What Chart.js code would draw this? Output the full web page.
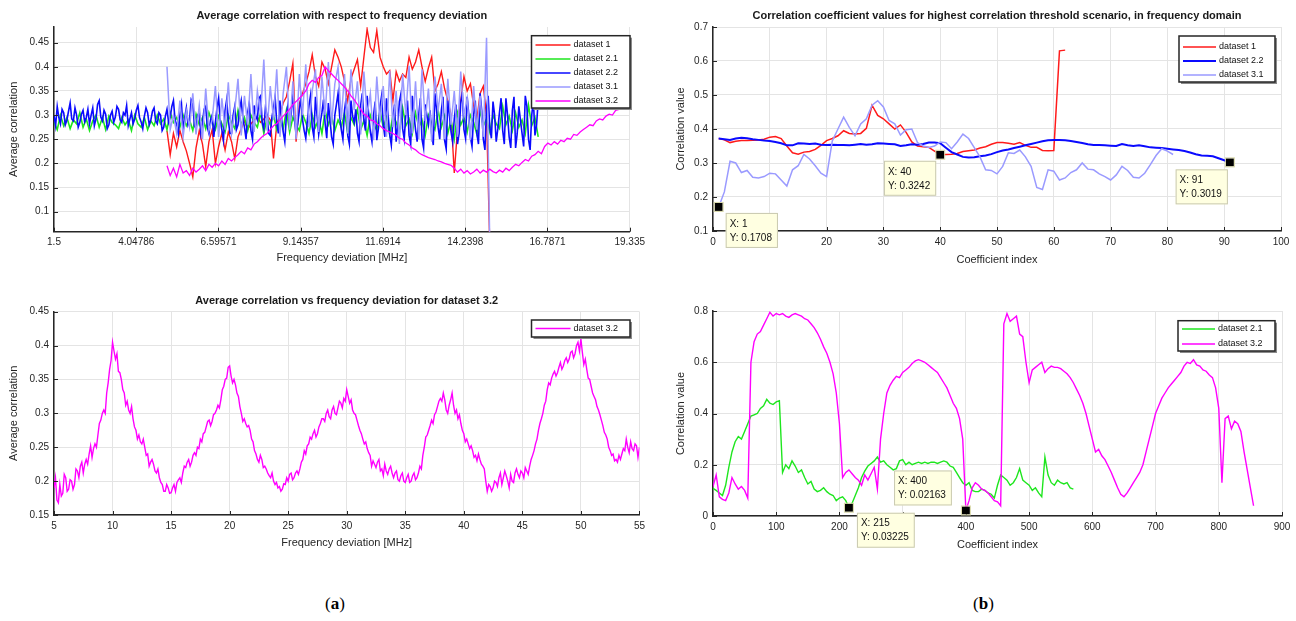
<!DOCTYPE html>
<html>
<head>
<meta charset="utf-8">
<script src="https://cdn.jsdelivr.net/npm/chart.js@4.4.1/dist/chart.umd.min.js"></script>
<style>
    body { margin: 0; width: 1296px; height: 621px; background: #fff; position: relative; overflow: hidden; }
    .panel { position: absolute; }
    .panel canvas { display: block; }
    .caption { position: absolute; top: 594px; font-family: "Liberation Serif", "DejaVu Serif", serif; font-size: 17px; color: #000; }
</style>
</head>
<body>
<div class="panel" style="left:0px;top:0px"><canvas id="chartTopLeft" width="650" height="270"></canvas></div>
<div class="panel" style="left:650px;top:0px"><canvas id="chartTopRight" width="646" height="270"></canvas></div>
<div class="panel" style="left:0px;top:285px"><canvas id="chartBottomLeft" width="650" height="270"></canvas></div>
<div class="panel" style="left:650px;top:285px"><canvas id="chartBottomRight" width="646" height="270"></canvas></div>
<div class="caption" style="left:325px">(<b>a</b>)</div>
<div class="caption" style="left:973px">(<b>b</b>)</div>

<script>
const FONT = '"Liberation Sans", Arial, sans-serif';

// ---------- top left: average correlation vs frequency deviation (MHz)
const tlXTicks = [1.5, 4.04786, 6.59571, 9.14357, 11.6914, 14.2398, 16.7871, 19.335];
const tlXLabels = ['1.5', '4.04786', '6.59571', '9.14357', '11.6914', '14.2398', '16.7871', '19.335'];
const tlYTicks = [0.1, 0.15, 0.2, 0.25, 0.3, 0.35, 0.4, 0.45];
const tlYLabels = ['0.1', '0.15', '0.2', '0.25', '0.3', '0.35', '0.4', '0.45'];
const tlSeriesNames = ['dataset 1', 'dataset 2.1', 'dataset 2.2', 'dataset 3.1', 'dataset 3.2'];

// dataset 1, from 5.0 MHz every 0.1
const tlDataset1 = [
    0.268, 0.218, 0.262, 0.234, 0.268, 0.245, 0.226, 0.200, 0.172, 0.232,
    0.268, 0.240, 0.193, 0.245, 0.270, 0.200, 0.235, 0.262, 0.228, 0.265,
    0.245, 0.210, 0.255, 0.272, 0.289, 0.270, 0.282, 0.290, 0.296, 0.285,
    0.292, 0.300, 0.290, 0.210, 0.280, 0.300, 0.325, 0.338, 0.370, 0.407,
    0.245, 0.324, 0.345, 0.365, 0.390, 0.425, 0.380, 0.360, 0.410, 0.395,
    0.365, 0.400, 0.435, 0.420, 0.400, 0.370, 0.330, 0.375, 0.395, 0.415,
    0.360, 0.420, 0.478, 0.440, 0.430, 0.475, 0.420, 0.400, 0.385, 0.392,
    0.330, 0.390, 0.370, 0.385, 0.378, 0.420, 0.395, 0.410, 0.435, 0.400,
    0.370, 0.398, 0.420, 0.350, 0.365, 0.390, 0.355, 0.330, 0.300, 0.180,
    0.270, 0.330, 0.380, 0.350, 0.365, 0.320, 0.290, 0.345, 0.360, 0.300,
    0.030
];
// dataset 2.1, from 1.5 MHz every 0.1
const tlDataset21 = [
    0.285, 0.270, 0.300, 0.278, 0.295, 0.272, 0.290, 0.282, 0.305, 0.275,
    0.292, 0.268, 0.288, 0.300, 0.275, 0.295, 0.270, 0.298, 0.285, 0.280,
    0.272, 0.295, 0.280, 0.290, 0.268, 0.300, 0.282, 0.275, 0.295, 0.270,
    0.288, 0.278, 0.300, 0.282, 0.292, 0.270, 0.305, 0.285, 0.295, 0.275,
    0.300, 0.278, 0.290, 0.268, 0.302, 0.280, 0.295, 0.272, 0.305, 0.285,
    0.270, 0.298, 0.282, 0.265, 0.300, 0.285, 0.272, 0.310, 0.280, 0.295,
    0.268, 0.300, 0.285, 0.275, 0.305, 0.262, 0.295, 0.280, 0.300, 0.270,
    0.290, 0.272, 0.310, 0.265, 0.295, 0.280, 0.268, 0.302, 0.285, 0.262,
    0.300, 0.275, 0.292, 0.262, 0.310, 0.280, 0.298, 0.268, 0.290, 0.275,
    0.305, 0.262, 0.295, 0.280, 0.312, 0.270, 0.288, 0.258, 0.300, 0.282,
    0.268, 0.310, 0.275, 0.295, 0.260, 0.300, 0.285, 0.265, 0.315, 0.278,
    0.292, 0.262, 0.305, 0.275, 0.290, 0.258, 0.300, 0.282, 0.270, 0.310,
    0.275, 0.298, 0.262, 0.290, 0.250, 0.305, 0.280, 0.295, 0.265, 0.300,
    0.285, 0.260, 0.310, 0.278, 0.292, 0.265, 0.300, 0.282, 0.272, 0.318,
    0.280, 0.298, 0.268, 0.305, 0.275, 0.290, 0.262, 0.320, 0.278, 0.295,
    0.255
];
// dataset 2.2, from 1.5 MHz every 0.05
const tlDataset22 = [
    0.300, 0.278, 0.318, 0.295, 0.282, 0.312, 0.305, 0.280, 0.290, 0.308, 0.325, 0.292, 0.288, 0.315, 0.300, 0.275, 0.285, 0.302, 0.310, 0.286,
    0.295, 0.312, 0.282, 0.300, 0.315, 0.278, 0.292, 0.322, 0.330, 0.296, 0.288, 0.310, 0.302, 0.272, 0.280, 0.300, 0.308, 0.285, 0.296, 0.318,
    0.312, 0.290, 0.285, 0.305, 0.300, 0.320, 0.278, 0.292, 0.305, 0.282, 0.292, 0.310, 0.320, 0.295, 0.286, 0.272, 0.298, 0.315, 0.305, 0.280,
    0.290, 0.308, 0.315, 0.288, 0.282, 0.305, 0.300, 0.268, 0.275, 0.298, 0.312, 0.285, 0.295, 0.318, 0.330, 0.290, 0.280, 0.262, 0.300, 0.322,
    0.268, 0.295, 0.315, 0.280, 0.290, 0.332, 0.325, 0.278, 0.272, 0.300, 0.305, 0.262, 0.285, 0.312, 0.318, 0.275, 0.262, 0.290, 0.300, 0.255,
    0.285, 0.315, 0.335, 0.290, 0.270, 0.248, 0.310, 0.332, 0.290, 0.262, 0.262, 0.300, 0.318, 0.270, 0.280, 0.312, 0.330, 0.295, 0.275, 0.250,
    0.305, 0.325, 0.268, 0.250, 0.320, 0.298, 0.290, 0.335, 0.340, 0.285, 0.272, 0.315, 0.300, 0.262, 0.258, 0.295, 0.315, 0.338, 0.285, 0.262,
    0.330, 0.292, 0.265, 0.245, 0.300, 0.322, 0.278, 0.305, 0.345, 0.290, 0.262, 0.282, 0.310, 0.335, 0.290, 0.268, 0.252, 0.290, 0.320, 0.342,
    0.275, 0.255, 0.338, 0.300, 0.260, 0.285, 0.305, 0.332, 0.282, 0.252, 0.325, 0.290, 0.255, 0.240, 0.300, 0.322, 0.345, 0.298, 0.270, 0.250,
    0.310, 0.335, 0.258, 0.240, 0.330, 0.298, 0.285, 0.312, 0.262, 0.245, 0.320, 0.345, 0.290, 0.268, 0.340, 0.300, 0.265, 0.245, 0.300, 0.328,
    0.248, 0.272, 0.318, 0.340, 0.280, 0.255, 0.335, 0.300, 0.260, 0.238, 0.295, 0.322, 0.245, 0.280, 0.328, 0.345, 0.272, 0.250, 0.305, 0.330,
    0.258, 0.240, 0.340, 0.302, 0.270, 0.245, 0.300, 0.335, 0.250, 0.232, 0.322, 0.300, 0.280, 0.310, 0.262, 0.238, 0.345, 0.312, 0.275, 0.250,
    0.310, 0.338, 0.248, 0.230, 0.330, 0.300, 0.265, 0.245, 0.292, 0.322, 0.240, 0.262, 0.325, 0.348, 0.270, 0.252, 0.338, 0.300, 0.255, 0.235,
    0.300, 0.330, 0.262, 0.240, 0.345, 0.310, 0.250, 0.228, 0.315, 0.340, 0.275, 0.252, 0.328, 0.300, 0.245, 0.272, 0.305, 0.335, 0.268, 0.240,
    0.335, 0.300, 0.255, 0.232, 0.310, 0.338, 0.232, 0.262, 0.318, 0.290, 0.262, 0.235, 0.340, 0.318, 0.250, 0.228, 0.300, 0.332, 0.258, 0.280,
    0.330
];
// dataset 3.1, from 5.0 MHz every 0.1
const tlDataset31 = [
    0.400, 0.270, 0.300, 0.262, 0.330, 0.255, 0.310, 0.275, 0.345, 0.260,
    0.320, 0.250, 0.355, 0.268, 0.290, 0.360, 0.255, 0.335, 0.270, 0.368,
    0.262, 0.310, 0.375, 0.258, 0.340, 0.280, 0.385, 0.265, 0.350, 0.300,
    0.415, 0.268, 0.360, 0.290, 0.395, 0.255, 0.345, 0.400, 0.270, 0.370,
    0.250, 0.385, 0.300, 0.405, 0.275, 0.350, 0.395, 0.265, 0.380, 0.300,
    0.410, 0.280, 0.365, 0.400, 0.290, 0.385, 0.262, 0.395, 0.310, 0.370,
    0.260, 0.390, 0.300, 0.345, 0.248, 0.380, 0.285, 0.360, 0.255, 0.392,
    0.275, 0.350, 0.240, 0.385, 0.300, 0.402, 0.262, 0.370, 0.250, 0.395,
    0.288, 0.355, 0.245, 0.380, 0.310, 0.365, 0.250, 0.375, 0.280, 0.350,
    0.255, 0.390, 0.300, 0.335, 0.248, 0.360, 0.270, 0.340, 0.255, 0.460,
    0.030
];
// dataset 3.2, from 5.0 MHz every 0.1
const tlDataset32 = [
    0.195, 0.175, 0.190, 0.172, 0.198, 0.180, 0.185, 0.175, 0.190, 0.182,
    0.188, 0.195, 0.185, 0.198, 0.192, 0.200, 0.195, 0.205, 0.198, 0.210,
    0.205, 0.212, 0.218, 0.225, 0.220, 0.232, 0.228, 0.240, 0.245, 0.252,
    0.258, 0.262, 0.270, 0.278, 0.282, 0.290, 0.298, 0.305, 0.312, 0.322,
    0.328, 0.335, 0.342, 0.350, 0.365, 0.372, 0.368, 0.378, 0.382, 0.400,
    0.392, 0.385, 0.378, 0.372, 0.365, 0.358, 0.350, 0.340, 0.332, 0.322,
    0.312, 0.302, 0.298, 0.290, 0.288, 0.282, 0.278, 0.272, 0.268, 0.265,
    0.262, 0.258, 0.252, 0.250, 0.242, 0.238, 0.232, 0.228, 0.222, 0.218,
    0.215, 0.212, 0.210, 0.208, 0.205, 0.203, 0.200, 0.198, 0.196, 0.190,
    0.182, 0.188, 0.180, 0.185, 0.178, 0.182, 0.188, 0.180, 0.186, 0.182,
    0.188, 0.183, 0.180, 0.186, 0.182, 0.190, 0.185, 0.192, 0.198, 0.195,
    0.202, 0.208, 0.205, 0.215, 0.218, 0.225, 0.220, 0.235, 0.242, 0.238,
    0.245, 0.240, 0.248, 0.245, 0.252, 0.250, 0.260, 0.258, 0.265, 0.270,
    0.275, 0.280, 0.278, 0.288, 0.292, 0.290, 0.298, 0.302, 0.300, 0.310,
    0.312, 0.318, 0.322, 0.340
];

// ---------- top right: correlation coefficient values (index 1..)
const trXTicks = [0, 10, 20, 30, 40, 50, 60, 70, 80, 90, 100];
const trXLabels = ['0', '10', '20', '30', '40', '50', '60', '70', '80', '90', '100'];
const trYTicks = [0.1, 0.2, 0.3, 0.4, 0.5, 0.6, 0.7];
const trYLabels = ['0.1', '0.2', '0.3', '0.4', '0.5', '0.6', '0.7'];
const trSeriesNames = ['dataset 1', 'dataset 2.2', 'dataset 3.1'];
const trDataset1 = [
    0.372, 0.368, 0.360, 0.364, 0.366, 0.366, 0.367, 0.368, 0.370, 0.376,
    0.378, 0.372, 0.350, 0.330, 0.326, 0.332, 0.334, 0.340, 0.352, 0.366,
    0.372, 0.380, 0.395, 0.387, 0.385, 0.387, 0.402, 0.470, 0.440, 0.430,
    0.415, 0.400, 0.412, 0.390, 0.362, 0.350, 0.348, 0.346, 0.335, 0.3242,
    0.325, 0.326, 0.328, 0.334, 0.336, 0.338, 0.344, 0.348, 0.355, 0.360,
    0.360, 0.358, 0.355, 0.360, 0.352, 0.346, 0.346, 0.337, 0.336, 0.337,
    0.630, 0.632
];
const trDataset22 = [
    0.372, 0.370, 0.368, 0.372, 0.374, 0.373, 0.370, 0.368, 0.366, 0.365,
    0.362, 0.358, 0.352, 0.352, 0.358, 0.357, 0.356, 0.357, 0.354, 0.353,
    0.354, 0.353, 0.353, 0.352, 0.354, 0.356, 0.354, 0.355, 0.358, 0.357,
    0.356, 0.355, 0.350, 0.352, 0.355, 0.354, 0.356, 0.360, 0.360, 0.358,
    0.345, 0.332, 0.325, 0.318, 0.316, 0.317, 0.320, 0.322, 0.326, 0.332,
    0.337, 0.340, 0.344, 0.348, 0.352, 0.356, 0.360, 0.364, 0.367, 0.368,
    0.368, 0.367, 0.365, 0.362, 0.359, 0.355, 0.353, 0.353, 0.352, 0.351,
    0.350, 0.356, 0.352, 0.350, 0.352, 0.349, 0.346, 0.345, 0.344, 0.342,
    0.340, 0.338, 0.335, 0.331, 0.326, 0.322, 0.321, 0.320, 0.314, 0.308,
    0.3019
];
const trDataset31 = [
    0.1708, 0.215, 0.305, 0.300, 0.272, 0.278, 0.258, 0.256, 0.260, 0.270,
    0.268, 0.250, 0.232, 0.280, 0.292, 0.325, 0.312, 0.292, 0.270, 0.260,
    0.365, 0.400, 0.435, 0.405, 0.380, 0.415, 0.430, 0.470, 0.483, 0.465,
    0.425, 0.415, 0.382, 0.398, 0.400, 0.360, 0.350, 0.346, 0.350, 0.362,
    0.360, 0.342, 0.362, 0.385, 0.372, 0.345, 0.318, 0.280, 0.278, 0.268,
    0.290, 0.330, 0.328, 0.338, 0.318, 0.290, 0.228, 0.222, 0.280, 0.276,
    0.250, 0.256, 0.272, 0.280, 0.300, 0.282, 0.280, 0.268, 0.260, 0.250,
    0.265, 0.290, 0.278, 0.258, 0.256, 0.270, 0.295, 0.322, 0.342, 0.335,
    0.325
];
const trTipX = [1, 40, 91];
const trTipY = [0.1708, 0.3242, 0.3019];

// ---------- bottom left: dataset 3.2 from 5 MHz every 0.125
const blXTicks = [5, 10, 15, 20, 25, 30, 35, 40, 45, 50, 55];
const blXLabels = ['5', '10', '15', '20', '25', '30', '35', '40', '45', '50', '55'];
const blYTicks = [0.15, 0.2, 0.25, 0.3, 0.35, 0.4, 0.45];
const blYLabels = ['0.15', '0.2', '0.25', '0.3', '0.35', '0.4', '0.45'];
const blSeriesNames = ['dataset 3.2'];
const blDataset32 = [
    0.190, 0.205, 0.172, 0.168, 0.195, 0.178, 0.182, 0.210,
    0.205, 0.185, 0.188, 0.202, 0.200, 0.188, 0.195, 0.218,
    0.215, 0.205, 0.222, 0.228, 0.212, 0.225, 0.232, 0.225,
    0.240, 0.252, 0.235, 0.248, 0.255, 0.250, 0.268, 0.285,
    0.290, 0.300, 0.305, 0.300, 0.330, 0.345, 0.365, 0.378,
    0.405, 0.392, 0.380, 0.388, 0.362, 0.360, 0.350, 0.335,
    0.330, 0.312, 0.318, 0.305, 0.300, 0.310, 0.292, 0.280,
    0.275, 0.262, 0.268, 0.258, 0.255, 0.262, 0.250, 0.238,
    0.240, 0.222, 0.228, 0.232, 0.225, 0.215, 0.212, 0.218,
    0.205, 0.198, 0.195, 0.185, 0.185, 0.195, 0.190, 0.182,
    0.183, 0.190, 0.195, 0.185, 0.198, 0.202, 0.205, 0.198,
    0.212, 0.222, 0.220, 0.228, 0.232, 0.222, 0.228, 0.238,
    0.242, 0.238, 0.250, 0.248, 0.262, 0.258, 0.270, 0.272,
    0.280, 0.288, 0.290, 0.282, 0.288, 0.298, 0.300, 0.305,
    0.312, 0.308, 0.320, 0.335, 0.340, 0.350, 0.352, 0.368,
    0.370, 0.355, 0.345, 0.350, 0.342, 0.330, 0.325, 0.310,
    0.300, 0.288, 0.292, 0.285, 0.280, 0.282, 0.275, 0.262,
    0.258, 0.245, 0.240, 0.232, 0.228, 0.238, 0.232, 0.220,
    0.222, 0.218, 0.212, 0.208, 0.205, 0.212, 0.200, 0.195,
    0.198, 0.190, 0.192, 0.185, 0.188, 0.196, 0.195, 0.205,
    0.200, 0.210, 0.212, 0.202, 0.205, 0.212, 0.215, 0.210,
    0.218, 0.228, 0.232, 0.245, 0.240, 0.252, 0.255, 0.265,
    0.262, 0.270, 0.275, 0.265, 0.270, 0.280, 0.285, 0.292,
    0.292, 0.288, 0.300, 0.305, 0.295, 0.292, 0.305, 0.310,
    0.300, 0.298, 0.308, 0.318, 0.315, 0.308, 0.322, 0.318,
    0.335, 0.325, 0.315, 0.320, 0.305, 0.300, 0.298, 0.290,
    0.282, 0.275, 0.270, 0.262, 0.255, 0.258, 0.248, 0.242,
    0.238, 0.222, 0.230, 0.225, 0.220, 0.228, 0.232, 0.215,
    0.218, 0.208, 0.225, 0.215, 0.210, 0.218, 0.222, 0.212,
    0.205, 0.212, 0.215, 0.202, 0.200, 0.208, 0.212, 0.200,
    0.198, 0.205, 0.210, 0.198, 0.200, 0.208, 0.212, 0.202,
    0.205, 0.212, 0.222, 0.218, 0.238, 0.250, 0.265, 0.268,
    0.275, 0.282, 0.290, 0.285, 0.298, 0.302, 0.310, 0.318,
    0.322, 0.318, 0.330, 0.320, 0.305, 0.300, 0.312, 0.320,
    0.330, 0.312, 0.300, 0.305, 0.292, 0.298, 0.285, 0.275,
    0.270, 0.258, 0.262, 0.255, 0.248, 0.252, 0.245, 0.235,
    0.238, 0.230, 0.240, 0.232, 0.225, 0.222, 0.218, 0.200,
    0.185, 0.195, 0.192, 0.185, 0.190, 0.200, 0.198, 0.192,
    0.205, 0.212, 0.195, 0.205, 0.215, 0.208, 0.200, 0.190,
    0.210, 0.200, 0.198, 0.212, 0.218, 0.210, 0.205, 0.215,
    0.212, 0.205, 0.220, 0.215, 0.210, 0.222, 0.232, 0.238,
    0.245, 0.255, 0.262, 0.275, 0.285, 0.292, 0.300, 0.312,
    0.318, 0.335, 0.345, 0.342, 0.352, 0.358, 0.362, 0.355,
    0.360, 0.368, 0.375, 0.365, 0.370, 0.378, 0.382, 0.375,
    0.380, 0.390, 0.392, 0.382, 0.388, 0.400, 0.405, 0.392,
    0.410, 0.390, 0.372, 0.380, 0.365, 0.352, 0.350, 0.340,
    0.330, 0.325, 0.320, 0.310, 0.305, 0.298, 0.290, 0.282,
    0.272, 0.268, 0.262, 0.250, 0.245, 0.238, 0.240, 0.230,
    0.232, 0.228, 0.238, 0.232, 0.240, 0.248, 0.245, 0.262,
    0.250, 0.242, 0.258, 0.248, 0.245, 0.255, 0.252, 0.235,
    0.250
];

// ---------- bottom right: coefficient index every 5
const brXTicks = [0, 100, 200, 300, 400, 500, 600, 700, 800, 900];
const brXLabels = ['0', '100', '200', '300', '400', '500', '600', '700', '800', '900'];
const brYTicks = [0, 0.2, 0.4, 0.6, 0.8];
const brYLabels = ['0', '0.2', '0.4', '0.6', '0.8'];
const brSeriesNames = ['dataset 2.1', 'dataset 3.2'];
const brDataset21 = [
    0.108, 0.100, 0.090, 0.080, 0.120, 0.190, 0.250, 0.290, 0.310, 0.300,
    0.330, 0.360, 0.390, 0.395, 0.400, 0.420, 0.430, 0.455, 0.440, 0.435,
    0.445, 0.450, 0.170, 0.200, 0.185, 0.215, 0.195, 0.170, 0.180, 0.150,
    0.125, 0.135, 0.105, 0.095, 0.100, 0.110, 0.095, 0.085, 0.080, 0.060,
    0.070, 0.075, 0.060, 0.03225, 0.050, 0.080, 0.110, 0.150, 0.175, 0.195,
    0.205, 0.215, 0.230, 0.210, 0.215, 0.200, 0.190, 0.180, 0.185, 0.215,
    0.220, 0.200, 0.210, 0.200, 0.205, 0.210, 0.205, 0.210, 0.205, 0.210,
    0.210, 0.205, 0.210, 0.215, 0.210, 0.195, 0.190, 0.170, 0.150, 0.130,
    0.120, 0.130, 0.100, 0.095, 0.095, 0.105, 0.100, 0.090, 0.085, 0.070,
    0.120, 0.160, 0.150, 0.140, 0.120, 0.130, 0.150, 0.185, 0.140, 0.130,
    0.120, 0.100, 0.110, 0.090, 0.075, 0.230, 0.160, 0.130, 0.120, 0.140,
    0.130, 0.125, 0.130, 0.110, 0.105
];
const brDataset32 = [
    0.115, 0.160, 0.075, 0.065, 0.060, 0.090, 0.150, 0.125, 0.105, 0.115,
    0.100, 0.070, 0.600, 0.680, 0.710, 0.720, 0.745, 0.770, 0.795, 0.780,
    0.790, 0.785, 0.790, 0.780, 0.775, 0.785, 0.790, 0.785, 0.780, 0.770,
    0.765, 0.750, 0.735, 0.715, 0.690, 0.660, 0.635, 0.600, 0.555, 0.480,
    0.360, 0.150, 0.170, 0.180, 0.165, 0.150, 0.140, 0.120, 0.160, 0.140,
    0.165, 0.190, 0.105, 0.300, 0.400, 0.480, 0.510, 0.530, 0.545, 0.540,
    0.560, 0.570, 0.580, 0.595, 0.605, 0.610, 0.605, 0.600, 0.590, 0.580,
    0.570, 0.560, 0.540, 0.520, 0.500, 0.470, 0.440, 0.420, 0.380, 0.300,
    0.02163, 0.060, 0.110, 0.130, 0.120, 0.105, 0.100, 0.090, 0.075, 0.060,
    0.055, 0.040, 0.750, 0.790, 0.760, 0.770, 0.780, 0.710, 0.700, 0.600,
    0.520, 0.570, 0.580, 0.590, 0.600, 0.560, 0.575, 0.585, 0.580, 0.580,
    0.575, 0.565, 0.555, 0.540, 0.520, 0.495, 0.470, 0.440, 0.400, 0.350,
    0.300, 0.250, 0.260, 0.235, 0.220, 0.195, 0.170, 0.140, 0.110, 0.085,
    0.075, 0.090, 0.110, 0.130, 0.150, 0.170, 0.200, 0.250, 0.300, 0.350,
    0.400, 0.430, 0.460, 0.480, 0.500, 0.515, 0.530, 0.545, 0.560, 0.585,
    0.600, 0.595, 0.610, 0.590, 0.585, 0.570, 0.565, 0.550, 0.540, 0.500,
    0.420, 0.130, 0.380, 0.390, 0.340, 0.370, 0.360, 0.330, 0.250, 0.180,
    0.110, 0.040
];
const brTipX = [215, 400];
const brTipY = [0.03225, 0.02163];


class CorrelationFigure {

    static pointers = {
        topLeft: 'chartTopLeft',
        topRight: 'chartTopRight',
        bottomLeft: 'chartBottomLeft',
        bottomRight: 'chartBottomRight',
    }

    static colors = {
        red: '#ff1a1a',
        green: '#1ee61e',
        blue: '#0a0aff',
        lightBlue: '#9a9aff',
        magenta: '#ff00ff',
        text: '#262626',
        grid: '#e4e4e4',
    }

    static charts = {}

    // put a sampled series on its x grid
    static series = (start, dx, values) => values.map((v, i) => ({ x: start + i * dx, y: v }));

    static line = (label, color, width, order, data) => ({
        label, data, order,
        borderColor: color,
        borderWidth: width,
        pointRadius: 0,
        tension: 0,
        fill: false,
    });

    // matlab looking axis with fixed size so the plot area sits where the figure has it
    static axis = (min, max, ticks, labels, title, size, titlePad) => ({
        type: 'linear',
        min, max,
        afterBuildTicks: (s) => { s.ticks = ticks.map(v => ({ value: v })); },
        afterFit: (s) => { if (s.isHorizontal()) s.height = size; else s.width = size; },
        ticks: {
            autoSkip: false,
            maxRotation: 0,
            padding: 5,
            color: this.colors.text,
            font: { family: FONT, size: 10 },
            callback: (v, i) => labels[i],
        },
        grid: { color: this.colors.grid, lineWidth: 1, drawTicks: false },
        border: { color: this.colors.text, width: 1.5 },
        title: {
            display: true,
            text: title,
            color: this.colors.text,
            font: { family: FONT, size: 11 },
            padding: titlePad,
        },
    })

    // legend box, inward ticks and data tips drawn on top of the chart
    static decor = {
        id: 'decor',
        afterDraw: (chart, args, opts) => {
            const ctx = chart.ctx;
            const { x, y } = chart.scales;
            const area = chart.chartArea;
            ctx.save();

            ctx.strokeStyle = this.colors.text;
            ctx.lineWidth = 1;
            ctx.beginPath();
            x.ticks.forEach(t => {
                const px = Math.round(x.getPixelForValue(t.value)) + 0.5;
                ctx.moveTo(px, area.bottom);
                ctx.lineTo(px, area.bottom - 4);
            });
            y.ticks.forEach(t => {
                const py = Math.round(y.getPixelForValue(t.value)) + 0.5;
                ctx.moveTo(area.left, py);
                ctx.lineTo(area.left + 4, py);
            });
            ctx.stroke();

            const lg = opts.legend;
            if (lg) {
                ctx.fillStyle = '#8a8a8a';
                ctx.fillRect(lg.left + 2, lg.top + 2, lg.width, lg.height);
                ctx.fillStyle = '#fff';
                ctx.fillRect(lg.left, lg.top, lg.width, lg.height);
                ctx.strokeStyle = '#262626';
                ctx.lineWidth = 1.5;
                ctx.strokeRect(lg.left, lg.top, lg.width, lg.height);
                ctx.font = `9px ${FONT}`;
                ctx.textBaseline = 'middle';
                ctx.textAlign = 'left';
                chart.data.datasets.forEach((ds, i) => {
                    const cy = lg.top + lg.firstRow + i * lg.rowStep;
                    ctx.strokeStyle = ds.borderColor;
                    ctx.lineWidth = ds.borderWidth;
                    ctx.beginPath();
                    ctx.moveTo(lg.left + 4, cy);
                    ctx.lineTo(lg.left + 4 + lg.lineLength, cy);
                    ctx.stroke();
                    ctx.fillStyle = '#111';
                    ctx.fillText(ds.label, lg.left + 7 + lg.lineLength, cy);
                });
            }

            (opts.tips || []).forEach(tip => {
                const mx = x.getPixelForValue(tip.x);
                const my = y.getPixelForValue(tip.y);
                const lines = ['X: ' + tip.x, 'Y: ' + tip.y];
                ctx.font = `10px ${FONT}`;
                const w = Math.max(...lines.map(l => ctx.measureText(l).width)) + 10;
                const h = 35;
                const left = tip.side === 'right' ? mx + tip.dx : mx - tip.dx - w;
                const top = my + tip.dy;
                ctx.fillStyle = '#ffffe1';
                ctx.fillRect(left, top, w, h);
                ctx.strokeStyle = '#c9c9b0';
                ctx.lineWidth = 1;
                ctx.strokeRect(left + 0.5, top + 0.5, w - 1, h - 1);
                ctx.fillStyle = '#111';
                ctx.textBaseline = 'middle';
                ctx.textAlign = 'left';
                ctx.fillText(lines[0], left + 4, top + 11);
                ctx.fillText(lines[1], left + 4, top + 25);
                ctx.fillStyle = '#000';
                ctx.fillRect(mx - 4, my - 4, 8, 8);
                ctx.strokeStyle = '#d8d8a8';
                ctx.strokeRect(mx - 4.5, my - 4.5, 9, 9);
            });

            ctx.restore();
        }
    }

    static build = (id, datasets, scales, title, layoutPadding, decor) => {
        this.charts[id] = new Chart(document.getElementById(id), {
            type: 'line',
            data: { datasets },
            options: {
                responsive: false,
                animation: false,
                events: [],
                layout: { autoPadding: false, padding: layoutPadding },
                scales,
                plugins: {
                    legend: { display: false },
                    tooltip: { enabled: false },
                    title: title ? {
                        display: true,
                        text: title.text,
                        fullSize: false,
                        color: '#1a1a1a',
                        font: { family: FONT, size: 11, weight: 'bold' },
                        padding: title.padding,
                    } : { display: false },
                    decor,
                },
            },
            plugins: [this.decor],
        });
    }

    static tips = (xs, ys, placement) => xs.map((v, i) => ({ x: v, y: ys[i], ...placement[i] }));

    static init = () => {
        Chart.defaults.font.family = FONT;
        const c = this.colors;

        // top left
        this.build(this.pointers.topLeft, [
            this.line(tlSeriesNames[0], c.red, 1.4, 5, this.series(5.0, 0.1, tlDataset1)),
            this.line(tlSeriesNames[1], c.green, 1.6, 4, this.series(1.5, 0.1, tlDataset21)),
            this.line(tlSeriesNames[2], c.blue, 1.6, 3, this.series(1.5, 0.05, tlDataset22)),
            this.line(tlSeriesNames[3], c.lightBlue, 1.5, 2, this.series(5.0, 0.1, tlDataset31)),
            this.line(tlSeriesNames[4], c.magenta, 1.3, 1, this.series(5.0, 0.1, tlDataset32)),
        ], {
            x: this.axis(1.5, 19.335, tlXTicks, tlXLabels, 'Frequency deviation [MHz]', 38.3, { top: 0, bottom: 5.4 }),
            y: this.axis(0.0585, 0.4825, tlYTicks, tlYLabels, 'Average correlation', 54, { top: 7.4, bottom: 0 }),
        }, { text: 'Average correlation with respect to frequency deviation', padding: { top: 9.4, bottom: 4.4 } },
            { left: 0, right: 9, top: 0, bottom: 0 },
            { legend: { left: 531.5, top: 35.7, width: 98.5, height: 72.3, firstRow: 9.3, rowStep: 14, lineLength: 35 } });

        // top right
        this.build(this.pointers.topRight, [
            this.line(trSeriesNames[0], c.red, 1.5, 3, this.series(1, 1, trDataset1)),
            this.line(trSeriesNames[1], c.blue, 2, 2, this.series(1, 1, trDataset22)),
            this.line(trSeriesNames[2], c.lightBlue, 1.5, 1, this.series(1, 1, trDataset31)),
        ], {
            x: this.axis(0, 100, trXTicks, trXLabels, 'Coefficient index', 39, { top: 0, bottom: 3.4 }),
            y: this.axis(0.1, 0.7, trYTicks, trYLabels, 'Correlation value', 63, { top: 24.4, bottom: 0 }),
        }, { text: 'Correlation coefficient values for highest correlation threshold scenario, in frequency domain', padding: { top: 9.4, bottom: 4.4 } },
            { left: 0, right: 15, top: 0, bottom: 0 },
            {
                legend: { left: 529, top: 36, width: 96, height: 46, firstRow: 11, rowStep: 14, lineLength: 33 },
                tips: this.tips(trTipX, trTipY, [
                    { side: 'right', dx: 7, dy: 6 },
                    { side: 'left', dx: 4, dy: 6 },
                    { side: 'left', dx: 2, dy: 7 },
                ]),
            });

        // bottom left
        this.build(this.pointers.bottomLeft, [
            this.line(blSeriesNames[0], c.magenta, 1.4, 1, this.series(5, 0.125, blDataset32)),
        ], {
            x: this.axis(5, 55, blXTicks, blXLabels, 'Frequency deviation [MHz]', 40, { top: 0, bottom: 5.4 }),
            y: this.axis(0.15, 0.45, blYTicks, blYLabels, 'Average correlation', 54, { top: 7.4, bottom: 0 }),
        }, { text: 'Average correlation vs frequency deviation for dataset 3.2', padding: { top: 9.1, bottom: 4.4 } },
            { left: 0, right: 9, top: 0, bottom: 0 },
            { legend: { left: 531.5, top: 35, width: 98.5, height: 17, firstRow: 8.5, rowStep: 14, lineLength: 35 } });

        // bottom right
        this.build(this.pointers.bottomRight, [
            this.line(brSeriesNames[0], c.green, 1.4, 2, this.series(0, 5, brDataset21)),
            this.line(brSeriesNames[1], c.magenta, 1.4, 1, this.series(0, 5, brDataset32)),
        ], {
            x: this.axis(0, 900, brXTicks, brXLabels, 'Coefficient index', 39, { top: 0, bottom: 3.4 }),
            y: this.axis(0, 0.8, brYTicks, brYLabels, 'Correlation value', 63, { top: 24.4, bottom: 0 }),
        }, null,
            { left: 0, right: 14, top: 26, bottom: 0 },
            {
                legend: { left: 528, top: 35.7, width: 97, height: 30.3, firstRow: 8.3, rowStep: 15, lineLength: 33 },
                tips: this.tips(brTipX, brTipY, [
                    { side: 'right', dx: 8, dy: 5 },
                    { side: 'left', dx: 14, dy: -40 },
                ]),
            });
    }
}

CorrelationFigure.init();
</script>
</body>
</html>
